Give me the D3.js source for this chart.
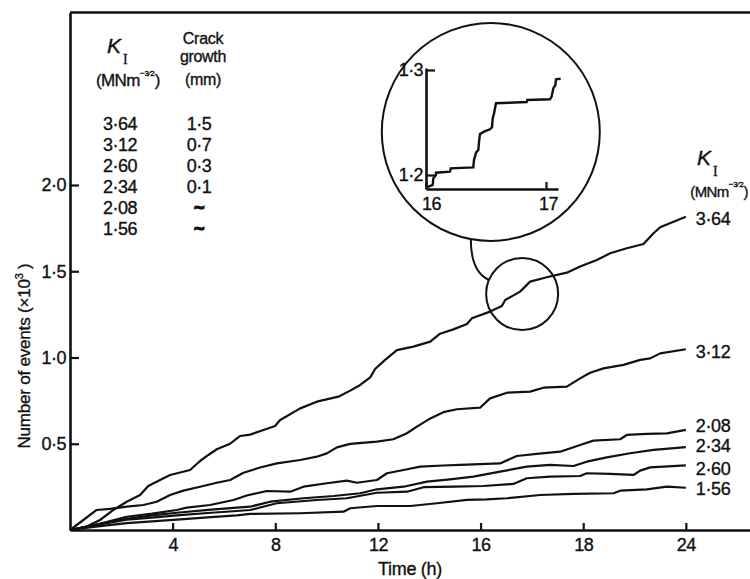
<!DOCTYPE html>
<html>
<head>
<meta charset="utf-8">
<script src="https://cdn.jsdelivr.net/npm/d3@7"></script>
<style>
  body { margin: 0; background: #fff; }
  text { font-family: "Liberation Sans", Arial, sans-serif; fill: #111; stroke: #111; stroke-width: 0.35px; }
</style>
</head>
<body>
<div id="chart"></div>
<script>
// legend table
const kValues = ['3·64', '3·12', '2·60', '2·34', '2·08', '1·56'];
const crackGrowth = ['1·5', '0·7', '0·3', '0·1', '~', '~'];

// axes
const xTickValues = [4, 8, 12, 16, 20, 24];
const xTickLabels = ['4', '8', '12', '16', '18', '24'];
const yTickValues = [0.5, 1.0, 1.5, 2.0];

// curves: [time (h), events x10^3]
const series364 = [[0,0],[0.65,0.02],[1.17,0.058],[1.69,0.116],[2.21,0.164],[2.73,0.203],[3.05,0.255],[3.51,0.29],[3.9,0.319],[4.68,0.348],[5.07,0.4],[5.39,0.435],[5.72,0.468],[6.24,0.5],[6.63,0.545],[7.02,0.553],[7.54,0.58],[7.99,0.603],[8.19,0.638],[8.97,0.705],[9.62,0.744],[10.46,0.773],[10.92,0.808],[11.31,0.841],[11.7,0.885],[11.89,0.933],[12.28,0.986],[12.74,1.043],[13.38,1.063],[14.04,1.092],[14.42,1.138],[14.94,1.163],[15.47,1.194],[15.66,1.227],[16.37,1.266],[16.83,1.299],[16.96,1.333],[17.54,1.382],[17.93,1.44],[18.58,1.465],[19.36,1.492],[19.88,1.527],[20.53,1.565],[21.05,1.604],[21.7,1.633],[22.35,1.658],[22.74,1.72],[23.0,1.755],[23.52,1.787],[24,1.816]];
const series312 = [[0,0],[0.52,0.058],[1.04,0.116],[1.56,0.122],[2.21,0.135],[2.86,0.145],[3.38,0.164],[3.9,0.203],[4.42,0.228],[5.07,0.251],[5.72,0.274],[6.24,0.29],[6.76,0.332],[7.41,0.362],[8.06,0.386],[8.97,0.406],[9.62,0.425],[10.01,0.444],[10.4,0.479],[10.92,0.499],[11.96,0.512],[12.6,0.526],[13.13,0.561],[13.52,0.599],[14.04,0.647],[14.55,0.683],[15.08,0.7],[15.98,0.709],[16.37,0.763],[17.03,0.796],[17.93,0.802],[18.45,0.825],[19.36,0.831],[19.88,0.879],[20.27,0.912],[20.79,0.937],[21.57,0.957],[22.22,0.986],[22.61,0.995],[23.0,1.024],[24,1.048]];
const series208 = [[0,0],[1.0,0.03],[2.21,0.077],[3.2,0.095],[4.16,0.116],[4.55,0.13],[5.46,0.145],[6.37,0.174],[6.89,0.2],[7.67,0.226],[8.58,0.222],[9.1,0.251],[10.01,0.271],[10.79,0.286],[11.18,0.274],[11.96,0.29],[12.35,0.329],[13.0,0.348],[13.65,0.367],[14.55,0.374],[15.2,0.377],[16.76,0.386],[17.41,0.429],[18.19,0.441],[19.1,0.454],[19.88,0.493],[20.4,0.518],[21.44,0.526],[21.7,0.551],[22.48,0.557],[23.26,0.56],[24,0.58]];
const series234 = [[0,0],[1.0,0.03],[2.21,0.065],[3.2,0.085],[4.16,0.1],[5.5,0.118],[6.5,0.13],[7.02,0.135],[7.8,0.164],[9.1,0.184],[10.27,0.197],[11.31,0.213],[11.96,0.236],[13.0,0.251],[13.91,0.28],[14.81,0.294],[15.72,0.309],[16.76,0.338],[17.8,0.367],[18.71,0.377],[19.62,0.371],[20.14,0.396],[20.92,0.421],[21.83,0.445],[22.74,0.464],[24,0.48]];
const series260 = [[0,0],[1.0,0.028],[2.21,0.06],[3.2,0.072],[4.16,0.085],[5.5,0.1],[6.5,0.11],[7.02,0.116],[8.06,0.155],[9.62,0.174],[10.79,0.184],[11.96,0.216],[13.13,0.222],[13.78,0.248],[15.0,0.252],[16.11,0.255],[17.28,0.267],[17.8,0.3],[18.71,0.309],[19.88,0.313],[20.14,0.329],[21.05,0.325],[21.96,0.319],[22.22,0.344],[22.61,0.363],[24,0.375]];
const series156 = [[0,0],[1.0,0.02],[2.21,0.04],[3.2,0.05],[4.16,0.06],[5.5,0.075],[6.5,0.085],[7.02,0.093],[8.97,0.097],[10.66,0.106],[10.92,0.126],[11.96,0.139],[13.26,0.139],[14.3,0.155],[15.47,0.175],[16.24,0.178],[17.03,0.184],[18.32,0.203],[19.62,0.209],[21.18,0.213],[21.44,0.228],[22.48,0.236],[23.26,0.251],[24,0.245]];

const seriesNames = ['3·64', '3·12', '2·08', '2·34', '2·60', '1·56'];
const seriesList = [series364, series312, series208, series234, series260, series156];

// inset: 3.64 curve between 16 and 17 h
const insetTickX = [16, 17];
const insetTickY = [1.2, 1.3];
const insetSeries = [[16.006,1.1883],[16.056,1.1905],[16.061,1.1968],[16.083,1.2],[16.083,1.2022],[16.2,1.2032],[16.206,1.2063],[16.394,1.2073],[16.4,1.2143],[16.417,1.2213],[16.436,1.2238],[16.442,1.2317],[16.45,1.239],[16.483,1.2413],[16.533,1.2435],[16.55,1.2454],[16.556,1.254],[16.567,1.2587],[16.583,1.2683],[16.839,1.2695],[16.844,1.2714],[17.033,1.2721],[17.047,1.2746],[17.061,1.2825],[17.078,1.2857],[17.083,1.2911],[17.122,1.2917]];

const width = 750;
const height = 579;
const fmt = d => d.toFixed(1).replace('.', '·');

const svg = d3.select('#chart')
    .append('svg')
        .attr('width', width)
        .attr('height', height);

const x = d3.scaleLinear().domain([0, 26.5]).range([70, 750]);
const y = d3.scaleLinear().domain([0, 3]).range([530, 12.5]);

// y-axis
const yAxis = svg.append('g')
    .attr('transform', 'translate(70,0)')
    .call(d3.axisLeft(y).tickValues(yTickValues).tickFormat(fmt)
        .tickSize(-9).tickSizeOuter(0).tickPadding(4));

// x-axis
const xAxis = svg.append('g')
    .attr('transform', 'translate(0,530)')
    .call(d3.axisBottom(x).tickValues(xTickValues).tickFormat((d, i) => xTickLabels[i])
        .tickSize(-7).tickSizeOuter(0).tickPadding(8));

[xAxis, yAxis].forEach(a => {
    a.select('.domain').attr('stroke', '#111').attr('stroke-width', 2.6);
    a.selectAll('.tick line').attr('stroke', '#111').attr('stroke-width', 2.2);
    a.selectAll('.tick text')
        .style('font-family', '"Liberation Sans", Arial, sans-serif')
        .style('font-size', '18px')
        .attr('fill', '#111')
        .attr('letter-spacing', '-0.5');
});

// top frame line
svg.append('line')
    .attr('x1', x(0)).attr('x2', x(26.5))
    .attr('y1', y(3)).attr('y2', y(3))
    .attr('stroke', '#111').attr('stroke-width', 2.6);

// axis titles
const yTitle = svg.append('text')
    .attr('transform', 'rotate(-90)')
    .attr('x', -356)
    .attr('y', 30)
    .attr('text-anchor', 'middle')
    .style('font-size', '17px')
    .attr('letter-spacing', '-0.2')
    .text('Number of events  (×10');
yTitle.append('tspan').attr('dy', -7).style('font-size', '11px').text('3');
yTitle.append('tspan').attr('dy', 7).text(' )');

svg.append('text')
    .attr('x', 410)
    .attr('y', 575)
    .attr('text-anchor', 'middle')
    .style('font-size', '18px')
    .attr('letter-spacing', '-0.3')
    .text('Time (h)');

// curves
const line = d3.line()
    .x(d => x(d[0]))
    .y(d => y(d[1]));

svg.selectAll('path.curve')
    .data(seriesList)
    .enter()
        .append('path')
            .attr('class', 'curve')
            .attr('d', line)
            .attr('fill', 'none')
            .attr('stroke', '#111')
            .attr('stroke-width', 2.2)
            .attr('stroke-linejoin', 'round');

// end labels
const endDy = [8, 9, 2, 5, 10, 7];
svg.selectAll('text.endlab')
    .data(seriesList)
    .enter()
        .append('text')
            .attr('class', 'endlab')
            .attr('x', d => x(d[d.length - 1][0]) + 10)
            .attr('y', (d, i) => y(d[d.length - 1][1]) + endDy[i])
            .style('font-size', '18px')
            .attr('letter-spacing', '-0.4')
            .text((d, i) => seriesNames[i]);

// K_I header helper
function kHeader(px, py) {
    svg.append('text')
        .attr('x', px).attr('y', py)
        .style('font-size', '21px')
        .style('font-style', 'italic')
        .text('K');
    svg.append('text')
        .attr('x', px + 16).attr('y', py + 11)
        .style('font-family', '"Liberation Serif", serif')
        .style('font-size', '14px')
        .text('I');
}
function unitText(px, py, size, anchor) {
    const t = svg.append('text')
        .attr('x', px).attr('y', py)
        .attr('text-anchor', anchor)
        .style('font-size', size + 'px')
        .attr('letter-spacing', '-0.6')
        .text('(MNm');
    t.append('tspan').attr('dy', -10).style('font-size', '8px').attr('letter-spacing', '0').text('−3⁄2');
    t.append('tspan').attr('dy', 10).text(')');
}

// left legend table
kHeader(107, 53);
unitText(96, 86, 17, 'start');
svg.append('text').attr('x', 203).attr('y', 44).attr('text-anchor', 'middle')
    .style('font-size', '16px').attr('letter-spacing', '-0.3').text('Crack');
svg.append('text').attr('x', 203).attr('y', 62).attr('text-anchor', 'middle')
    .style('font-size', '16px').attr('letter-spacing', '-0.3').text('growth');
svg.append('text').attr('x', 203).attr('y', 85).attr('text-anchor', 'middle')
    .style('font-size', '16px').attr('letter-spacing', '-0.3').text('(mm)');

svg.selectAll('text.kval')
    .data(kValues)
    .enter()
        .append('text')
            .attr('class', 'kval')
            .attr('x', 120)
            .attr('y', (d, i) => 130 + i * 21)
            .attr('text-anchor', 'middle')
            .style('font-size', '18px')
            .attr('letter-spacing', '-0.5')
            .text(d => d);

svg.selectAll('text.crack')
    .data(crackGrowth)
    .enter()
        .append('text')
            .attr('class', 'crack')
            .attr('x', 199)
            .attr('y', (d, i) => 130 + i * 21)
            .attr('text-anchor', 'middle')
            .style('font-size', '18px')
            .style('font-weight', d => d === '~' ? 'bold' : 'normal')
            .style('stroke-width', d => d === '~' ? '1.2px' : null)
            .attr('letter-spacing', '-0.5')
            .text(d => d);

// right K_I header
kHeader(697, 165);
unitText(748, 197, 15, 'end');

// zoom circle on the 3.64 curve
const zoomT = 17.62, zoomV = 1.368, zoomR = 36;
const sCx = x(zoomT), sCy = y(zoomV);
svg.append('circle')
    .attr('cx', sCx).attr('cy', sCy).attr('r', zoomR)
    .attr('fill', 'none').attr('stroke', '#111').attr('stroke-width', 2);

// inset
const insetX = d3.scaleLinear().domain([16, 17.1]).range([426, 558]);
const insetY = d3.scaleLinear().domain([1.18667, 1.3019]).range([189, 68]);
const bigCx = insetX(16.54), bigCy = insetY(1.241), bigR = 109;

svg.append('circle')
    .attr('cx', bigCx).attr('cy', bigCy).attr('r', bigR)
    .attr('fill', '#fff').attr('stroke', '#111').attr('stroke-width', 2);

// connector between circles
const startX = bigCx - 20, startY = bigCy + Math.sqrt(bigR * bigR - 400);
const ang = Math.atan2(-14, -33);
const endX = sCx + zoomR * Math.cos(ang), endY = sCy + zoomR * Math.sin(ang);
const conn = d3.path();
conn.moveTo(startX, startY);
conn.quadraticCurveTo(startX, endY - 8, endX, endY);
svg.append('path')
    .attr('d', conn.toString())
    .attr('fill', 'none').attr('stroke', '#111').attr('stroke-width', 2);

const inY = svg.append('g')
    .attr('transform', `translate(${insetX(16)},0)`)
    .call(d3.axisLeft(insetY).tickValues(insetTickY).tickFormat(fmt)
        .tickSize(-9).tickSizeOuter(0).tickPadding(3));
const inX = svg.append('g')
    .attr('transform', `translate(0,${insetY(1.18667)})`)
    .call(d3.axisBottom(insetX).tickValues(insetTickX).tickFormat(d => d)
        .tickSize(-7).tickSizeOuter(0).tickPadding(8));

[inX, inY].forEach(a => {
    a.select('.domain').attr('stroke', '#111').attr('stroke-width', 2.6);
    a.selectAll('.tick line').attr('stroke', '#111').attr('stroke-width', 2.2);
    a.selectAll('.tick text')
        .style('font-family', '"Liberation Sans", Arial, sans-serif')
        .style('font-size', '18px')
        .attr('fill', '#111')
        .attr('letter-spacing', '-0.6');
});
inX.selectAll('.tick text').attr('dx', (d, i) => i === 0 ? 5 : 2);

const insetLine = d3.line()
    .x(d => insetX(d[0]))
    .y(d => insetY(d[1]));

svg.append('path')
    .datum(insetSeries)
    .attr('d', insetLine)
    .attr('fill', 'none')
    .attr('stroke', '#111')
    .attr('stroke-width', 2.4)
    .attr('stroke-linejoin', 'miter');
</script>
</body>
</html>
